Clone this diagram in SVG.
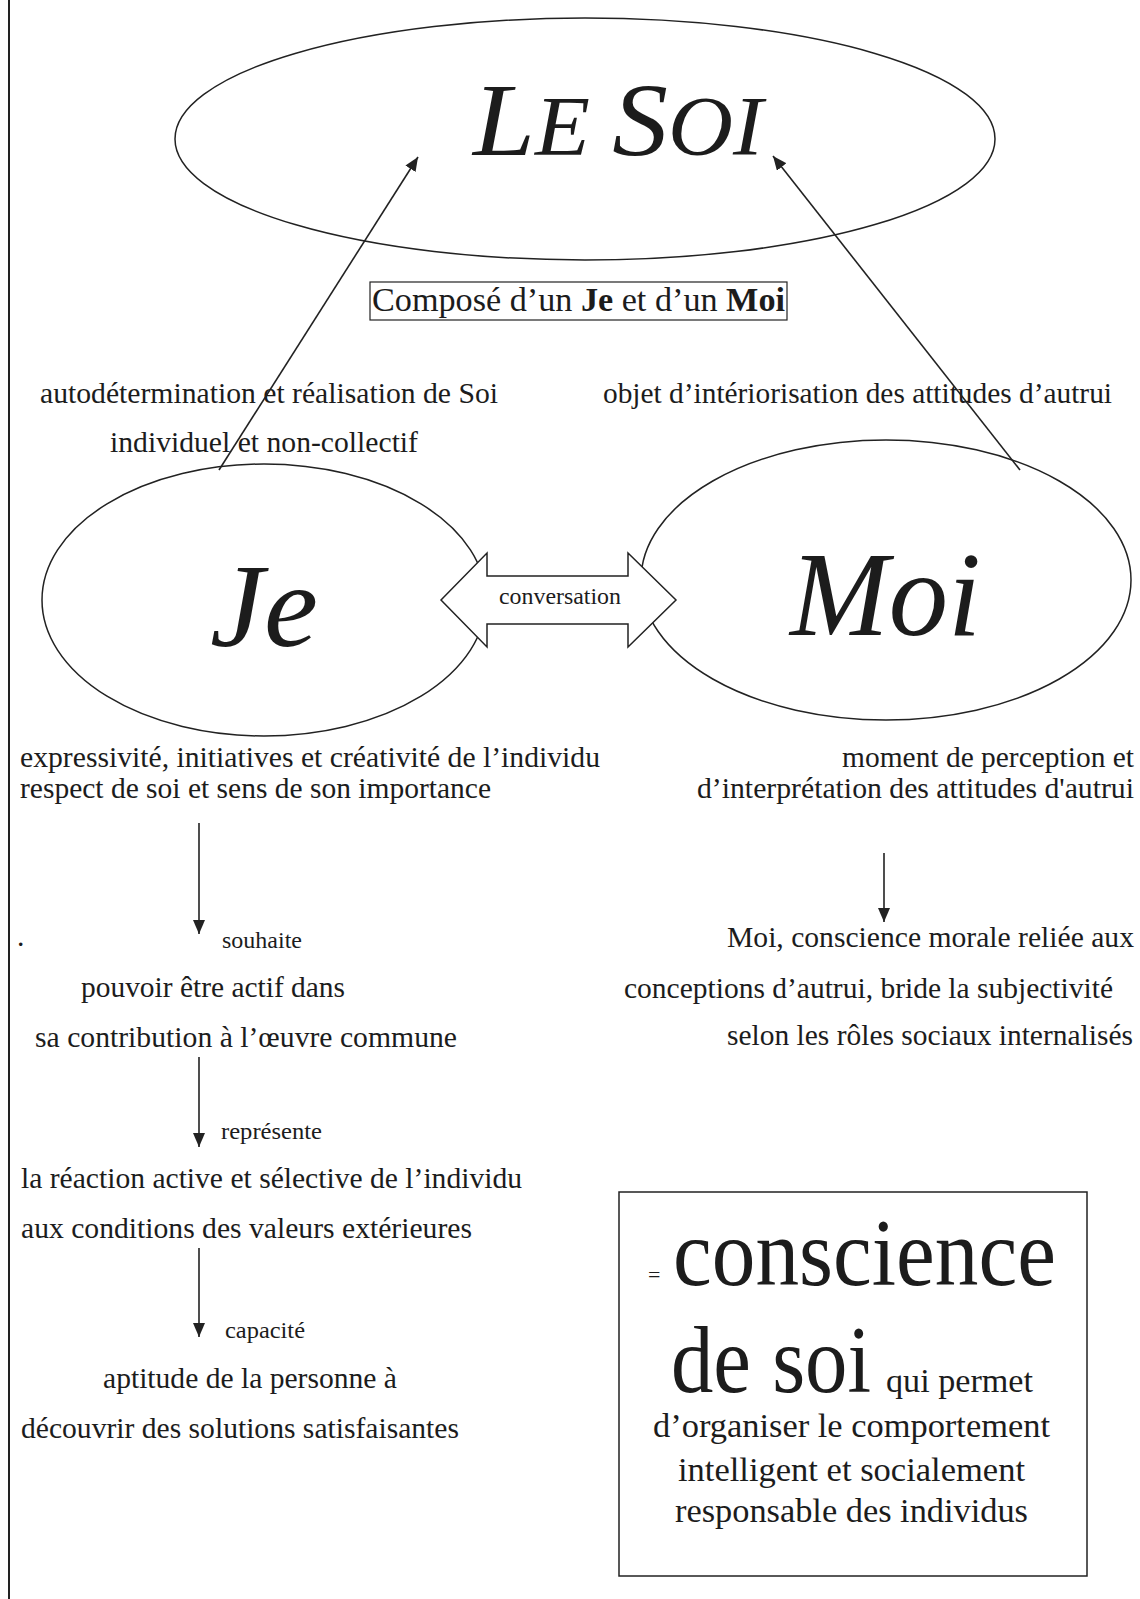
<svg xmlns="http://www.w3.org/2000/svg" width="1140" height="1599" viewBox="0 0 1140 1599">
<style>
text{font-family:"Liberation Serif","Times New Roman",serif;fill:#1c1c1c}
.b{font-size:29.5px}
.s{font-size:24px}
.big{font-size:34px}
.it{font-style:italic}
.shape{fill:none;stroke:#222;stroke-width:1.5}
.con{fill:none;stroke:#222;stroke-width:1.6}
</style>
<defs>
<marker id="ah" markerUnits="userSpaceOnUse" markerWidth="15" markerHeight="12" refX="14" refY="6" orient="auto">
<path d="M0,0 L14,6 L0,12 z" fill="#222"/>
</marker>
</defs>
<rect width="1140" height="1599" fill="#fff"/>
<line x1="9" y1="0" x2="9" y2="1599" stroke="#222" stroke-width="2"/>

<g id="le-soi">
<ellipse class="shape" cx="585" cy="139" rx="410" ry="121"/>
<text x="473" y="155" class="it" textLength="290" lengthAdjust="spacingAndGlyphs"><tspan font-size="104">L</tspan><tspan font-size="84">E </tspan><tspan font-size="104">S</tspan><tspan font-size="84">OI</tspan></text>
</g>

<g id="compose">
<rect x="370" y="282" width="417" height="38" fill="none" stroke="#222" stroke-width="1.2"/>
<text x="372" y="311" class="big" textLength="413" lengthAdjust="spacingAndGlyphs">Composé d’un <tspan font-weight="bold">Je</tspan> et d’un <tspan font-weight="bold">Moi</tspan></text>
</g>

<g id="je">
<ellipse class="shape" cx="264" cy="600" rx="222" ry="136"/>
<text x="210" y="646" class="it" font-size="118" textLength="108" lengthAdjust="spacingAndGlyphs">Je</text>
</g>

<g id="moi">
<ellipse class="shape" cx="886" cy="580" rx="245" ry="140"/>
<text x="790" y="635" class="it" font-size="120" textLength="191" lengthAdjust="spacingAndGlyphs">Moi</text>
</g>

<g id="conversation">
<path d="M441,600 L487,553 L487,576 L628,576 L628,553 L676,600 L628,647 L628,624 L487,624 L487,647 Z" fill="#fff" stroke="#222" stroke-width="1.5" stroke-linejoin="miter"/>
<text x="499" y="604" font-size="23.5" textLength="122" lengthAdjust="spacingAndGlyphs">conversation</text>
</g>

<g id="je-soi-labels">
<text x="40" y="403" class="b" textLength="458" lengthAdjust="spacingAndGlyphs">autodétermination et réalisation de Soi</text>
<text x="110" y="452" class="b" textLength="308" lengthAdjust="spacingAndGlyphs">individuel et non-collectif</text>
</g>
<g id="moi-soi-label">
<text x="603" y="403" class="b" textLength="509" lengthAdjust="spacingAndGlyphs">objet d’intériorisation des attitudes d’autrui</text>
</g>

<g id="je-desc">
<text x="20" y="767" class="b" textLength="580" lengthAdjust="spacingAndGlyphs">expressivité, initiatives et créativité de l’individu</text>
<text x="20" y="798" class="b" textLength="471" lengthAdjust="spacingAndGlyphs">respect de soi et sens de son importance</text>
</g>
<g id="moi-desc">
<text x="842" y="767" class="b" textLength="292" lengthAdjust="spacingAndGlyphs">moment de perception et</text>
<text x="697" y="798" class="b" textLength="437" lengthAdjust="spacingAndGlyphs">d’interprétation des attitudes d'autrui</text>
</g>

<g id="souhaite">
<text x="222" y="948" class="s" textLength="80" lengthAdjust="spacingAndGlyphs">souhaite</text>
<text x="17" y="946" class="b">.</text>
</g>
<g id="pouvoir">
<text x="81" y="997" class="b" textLength="264" lengthAdjust="spacingAndGlyphs">pouvoir être actif dans</text>
<text x="35" y="1047" class="b" textLength="422" lengthAdjust="spacingAndGlyphs">sa contribution à l’œuvre commune</text>
</g>
<g id="represente">
<text x="221" y="1139" class="s" textLength="101" lengthAdjust="spacingAndGlyphs">représente</text>
</g>
<g id="reaction">
<text x="21" y="1188" class="b" textLength="501" lengthAdjust="spacingAndGlyphs">la réaction active et sélective de l’individu</text>
<text x="21" y="1238" class="b" textLength="451" lengthAdjust="spacingAndGlyphs">aux conditions des valeurs extérieures</text>
</g>
<g id="capacite">
<text x="225" y="1338" class="s" textLength="80" lengthAdjust="spacingAndGlyphs">capacité</text>
</g>
<g id="aptitude">
<text x="103" y="1388" class="b" textLength="294" lengthAdjust="spacingAndGlyphs">aptitude de la personne à</text>
<text x="21" y="1438" class="b" textLength="438" lengthAdjust="spacingAndGlyphs">découvrir des solutions satisfaisantes</text>
</g>

<g id="moi-morale">
<text x="727" y="947" class="b" textLength="407" lengthAdjust="spacingAndGlyphs">Moi, conscience morale reliée aux</text>
<text x="624" y="998" class="b" textLength="489" lengthAdjust="spacingAndGlyphs">conceptions d’autrui, bride la subjectivité</text>
<text x="727" y="1045" class="b" textLength="406" lengthAdjust="spacingAndGlyphs">selon les rôles sociaux internalisés</text>
</g>

<g id="conscience-de-soi">
<rect x="619" y="1192" width="468" height="384" fill="none" stroke="#222" stroke-width="1.5"/>
<text x="648" y="1282" font-size="22">=</text>
<text x="673" y="1285" font-size="96" textLength="383" lengthAdjust="spacingAndGlyphs">conscience</text>
<text x="671" y="1392" font-size="96" textLength="200" lengthAdjust="spacingAndGlyphs">de soi</text>
<text x="886" y="1392" class="big" textLength="147" lengthAdjust="spacingAndGlyphs">qui permet</text>
<text x="653" y="1437" class="big" textLength="397" lengthAdjust="spacingAndGlyphs">d’organiser le comportement</text>
<text x="678" y="1481" class="big" textLength="347" lengthAdjust="spacingAndGlyphs">intelligent et socialement</text>
<text x="675" y="1522" class="big" textLength="353" lengthAdjust="spacingAndGlyphs">responsable des individus</text>
</g>

<g id="connectors">
<line class="con" x1="219" y1="470" x2="418" y2="157" marker-end="url(#ah)"/>
<line class="con" x1="1020" y1="470" x2="773" y2="156" marker-end="url(#ah)"/>
<line class="con" x1="199" y1="823" x2="199" y2="934" marker-end="url(#ah)"/>
<line class="con" x1="199" y1="1057" x2="199" y2="1147" marker-end="url(#ah)"/>
<line class="con" x1="199" y1="1248" x2="199" y2="1337" marker-end="url(#ah)"/>
<line class="con" x1="884" y1="853" x2="884" y2="922" marker-end="url(#ah)"/>
</g>
</svg>
